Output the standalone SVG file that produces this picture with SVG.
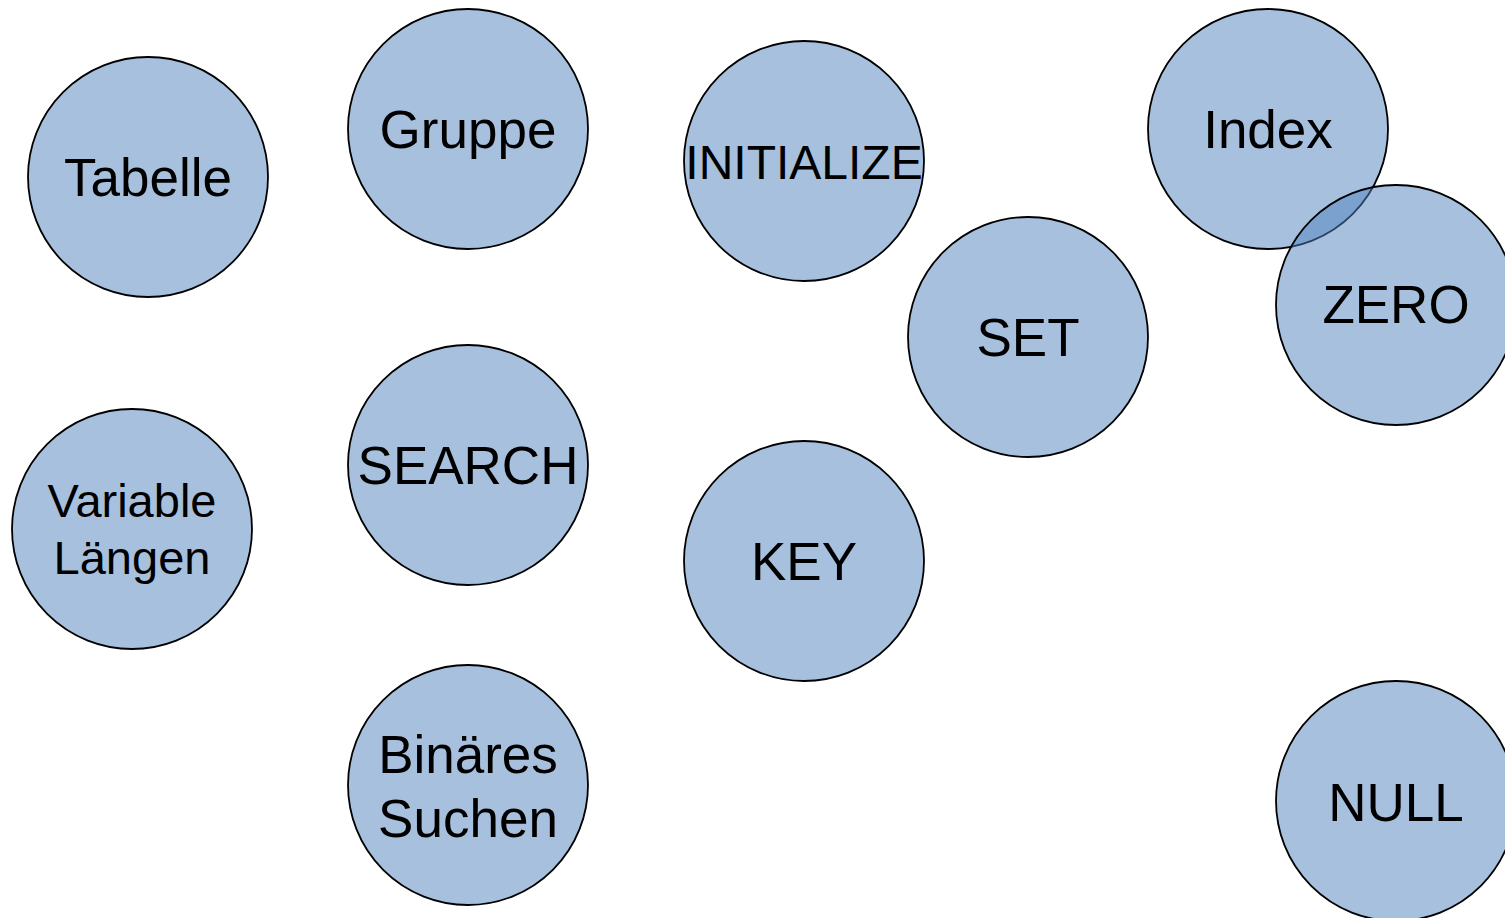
<svg xmlns="http://www.w3.org/2000/svg" width="1505" height="918" viewBox="0 0 1505 918">
  <style>
    .node circle { fill: #4f81bd; fill-opacity: 0.5; stroke: #000; stroke-width: 1.8; }
    .node text { font-family: "Liberation Sans", Arial, sans-serif; font-size: 53px; fill: #000; text-anchor: middle; }
    .node text.small { font-size: 47px; }
  </style>
  <rect width="1505" height="918" fill="#ffffff"/>
  <g id="connectors"></g>
  <g id="tabelle" class="node">
    <circle cx="148" cy="177" r="120"/>
    <text x="148" y="196">Tabelle</text>
  </g>
  <g id="gruppe" class="node">
    <circle cx="468" cy="129" r="120"/>
    <text x="468" y="148">Gruppe</text>
  </g>
  <g id="initialize" class="node">
    <circle cx="804" cy="161" r="120"/>
    <text x="804" y="179" style="font-size:48px">INITIALIZE</text>
  </g>
  <g id="index" class="node">
    <circle cx="1268" cy="129" r="120"/>
    <text x="1268" y="148">Index</text>
  </g>
  <g id="zero" class="node">
    <circle cx="1396" cy="305" r="120"/>
    <text x="1396" y="323">ZERO</text>
  </g>
  <g id="set" class="node">
    <circle cx="1028" cy="337" r="120"/>
    <text x="1028" y="356">SET</text>
  </g>
  <g id="variable-laengen" class="node">
    <circle cx="132" cy="529" r="120"/>
    <text class="small" x="132" y="517">Variable</text>
    <text class="small" x="132" y="574">Längen</text>
  </g>
  <g id="search" class="node">
    <circle cx="468" cy="465" r="120"/>
    <text x="468" y="484">SEARCH</text>
  </g>
  <g id="key" class="node">
    <circle cx="804" cy="561" r="120"/>
    <text x="804" y="580">KEY</text>
  </g>
  <g id="binaeres-suchen" class="node">
    <circle cx="468" cy="785" r="120"/>
    <text x="468" y="773">Binäres</text>
    <text x="468" y="837">Suchen</text>
  </g>
  <g id="null" class="node">
    <circle cx="1396" cy="801" r="120"/>
    <text x="1396" y="821">NULL</text>
  </g>
</svg>
